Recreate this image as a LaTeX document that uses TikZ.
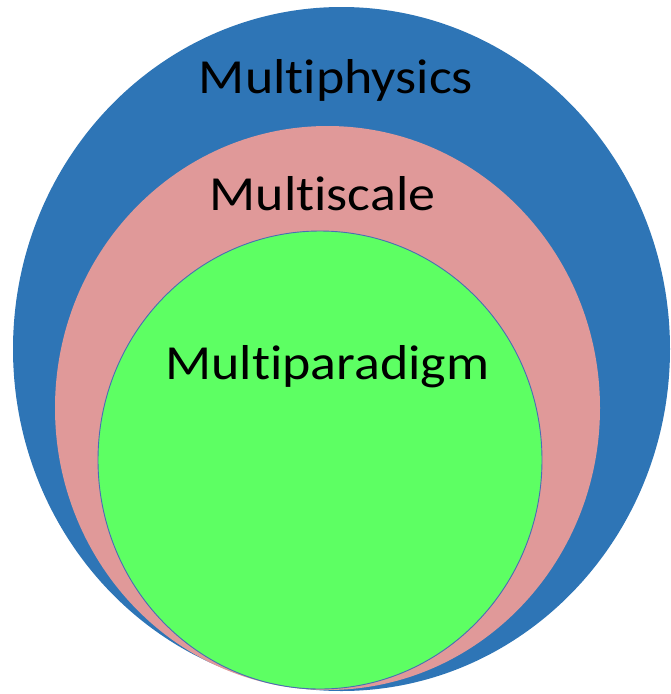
\documentclass[tikz,border=0pt]{standalone}
\usepackage{fontspec}
\setmainfont{Carlito}[Ligatures=NoCommon]
\definecolor{physblue}{HTML}{2E75B6}
\definecolor{scalepink}{HTML}{E09999}
\definecolor{paragreen}{HTML}{5DFF63}
\definecolor{ringline}{HTML}{4A6DB5}

\begin{document}
\begin{tikzpicture}[x=1pt,y=-1pt,
    layer/.style={line width=0.9pt},
    lbl/.style={anchor=base,inner sep=0pt,xscale=1.1,transform shape,
      font=\fontsize{49}{60}\selectfont}]
  \useasboundingbox (0,0) rectangle (670,694);
  % nested domains: outer to inner
  \fill[physblue] (341.5,349) ellipse [x radius=328.5,y radius=342];
  \fill[scalepink] (327.5,408) ellipse [x radius=272.5,y radius=282];
  \filldraw[layer,fill=paragreen,draw=ringline] (320,460) ellipse [x radius=222,y radius=229];
  % labels
  \node[lbl] (phys) at (336,93)  {Multiphysics};
  \node[lbl] (scale) at (322.5,210) {Multiscale};
  \node[lbl] (para) at (327.5,379) {Multiparadigm};
\end{tikzpicture}
\end{document}
